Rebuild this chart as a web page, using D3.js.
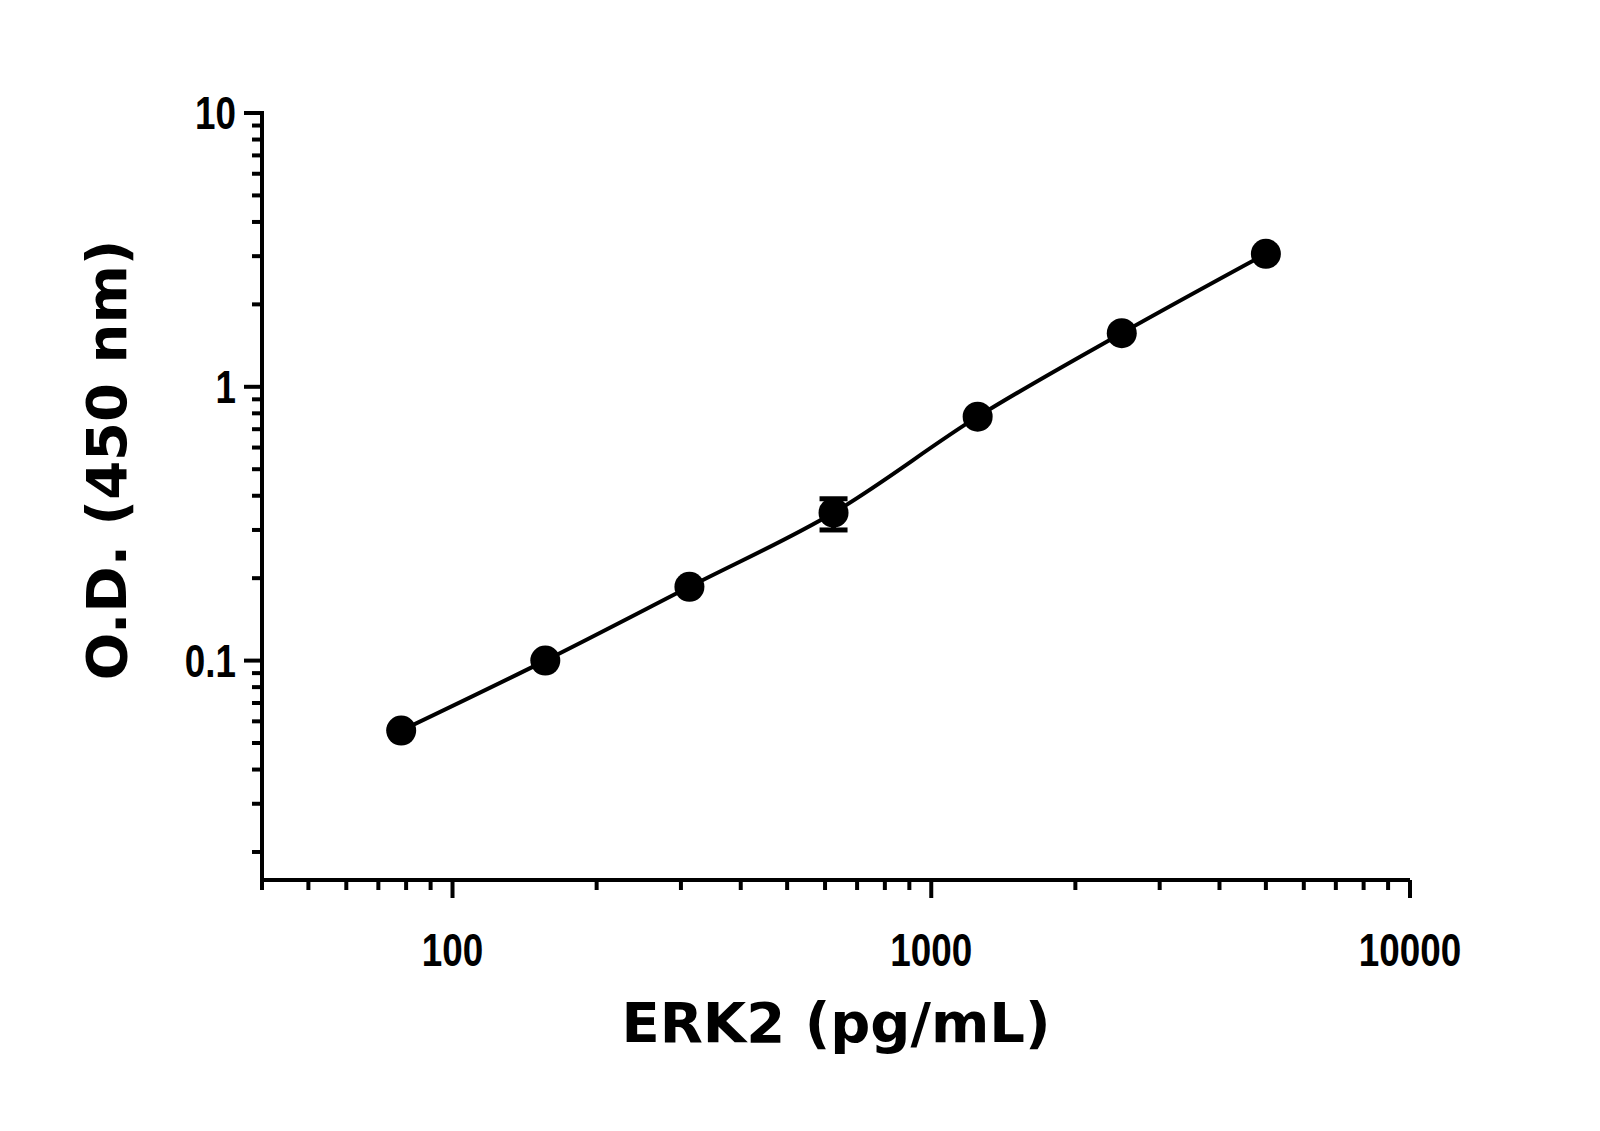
<!DOCTYPE html>
<html><head><meta charset="utf-8">
<script src="https://cdn.jsdelivr.net/npm/d3@7"></script>
<style>body{margin:0;background:#fff}</style></head>
<body><svg id="c" width="1600" height="1131"></svg>
<script>
const conc = [78.125, 156.25, 312.5, 625, 1250, 2500, 5000];
const od = [0.0555, 0.1, 0.186, 0.347, 0.778, 1.57, 3.06];
const errLow = [0.0555, 0.1, 0.186, 0.30, 0.778, 1.57, 3.06];
const errHigh = [0.0555, 0.1, 0.186, 0.39, 0.778, 1.57, 3.06];
const xTickLabels = [100, 1000, 10000];
const yTickLabels = [0.1, 1, 10];

const svg = d3.select("#c");
const x = d3.scaleLog().domain([40, 10000]).range([262, 1410]);
const y = d3.scaleLog().domain([0.0158, 10]).range([880, 113]);
const tickFont = "'Liberation Sans',Arial,sans-serif";

const xMinor = [];
[10,100,1000].forEach(d=>{for(let k=2;k<=9;k++){const v=d*k;if(v>=40&&v<=10000)xMinor.push(v);}});
const yMinor = [];
[0.01,0.1,1].forEach(d=>{for(let k=2;k<=9;k++){const v=d*k;if(v>=0.0158&&v<=10)yMinor.push(v);}});

const g = svg.append("g").attr("stroke","#000").attr("stroke-width",4);
g.append("line").attr("x1",262).attr("x2",1410).attr("y1",880).attr("y2",880);
g.append("line").attr("x1",262).attr("x2",262).attr("y1",880).attr("y2",111);
xMinor.forEach(v=>g.append("line").attr("x1",x(v)).attr("x2",x(v)).attr("y1",880).attr("y2",890));
xTickLabels.forEach(v=>g.append("line").attr("x1",x(v)).attr("x2",x(v)).attr("y1",880).attr("y2",898));
g.append("line").attr("x1",x(40)).attr("x2",x(40)).attr("y1",880).attr("y2",890);
yMinor.forEach(v=>g.append("line").attr("x1",262).attr("x2",252).attr("y1",y(v)).attr("y2",y(v)));
yTickLabels.forEach(v=>g.append("line").attr("x1",262).attr("x2",244).attr("y1",y(v)).attr("y2",y(v)));

xTickLabels.forEach(v=>svg.append("text").attr("transform",`translate(${x(v)},966) scale(0.8,1)`).attr("text-anchor","middle")
  .attr("font-family",tickFont).attr("font-weight","bold").attr("font-size",46).text(v));
yTickLabels.forEach(v=>svg.append("text").attr("transform",`translate(236,${y(v)+16}) scale(0.8,1)`).attr("text-anchor","end")
  .attr("font-family",tickFont).attr("font-weight","bold").attr("font-size",46).text(v));

svg.append("text").attr("x",836).attr("y",1042).attr("text-anchor","middle")
  .attr("font-family","'DejaVu Sans',sans-serif").attr("font-weight","bold").attr("font-size",56).text("ERK2 (pg/mL)");
svg.append("text").attr("transform","translate(126,460) rotate(-90)").attr("text-anchor","middle")
  .attr("font-family","'DejaVu Sans',sans-serif").attr("font-weight","bold").attr("font-size",56).text("O.D. (450 nm)");

const pts = conc.map((c,i)=>[c,od[i]]);
svg.append("path").datum(pts).attr("fill","none").attr("stroke","#000").attr("stroke-width",4)
  .attr("d",d3.line().x(d=>x(d[0])).y(d=>y(d[1])).curve(d3.curveCatmullRom.alpha(0.5)));
conc.forEach((c,i)=>{
  if(errHigh[i]>errLow[i]){
    const eg=svg.append("g").attr("stroke","#000").attr("stroke-width",5);
    eg.append("line").attr("x1",x(c)).attr("x2",x(c)).attr("y1",y(errLow[i])).attr("y2",y(errHigh[i]));
    [errLow[i],errHigh[i]].forEach(v=>eg.append("line").attr("x1",x(c)-14).attr("x2",x(c)+14).attr("y1",y(v)).attr("y2",y(v)));
  }
});
svg.selectAll("circle.p").data(pts).enter().append("circle")
  .attr("cx",d=>x(d[0])).attr("cy",d=>y(d[1])).attr("r",15).attr("fill","#000");
</script></body></html>
